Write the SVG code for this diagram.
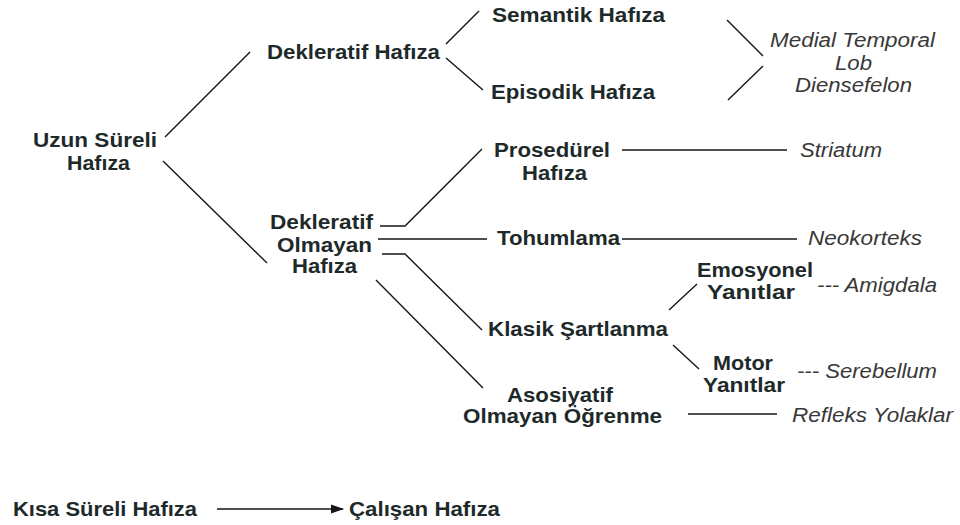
<svg xmlns="http://www.w3.org/2000/svg" width="960" height="525" viewBox="0 0 960 525">
<style>
.b{font-family:"Liberation Sans",Arial,sans-serif;font-weight:bold;font-size:21px;fill:#1e2a2a}
.i{font-family:"Liberation Sans",Arial,sans-serif;font-style:italic;font-size:20px;fill:#383838}
.c line,.c polyline{stroke:#161616;stroke-width:1.4;fill:none}
</style>
<defs>
<marker id="ah" markerWidth="13" markerHeight="10" refX="12" refY="5" orient="auto" markerUnits="userSpaceOnUse">
<path d="M0,0.5 L13,5 L0,9.5 Z" fill="#161616"/>
</marker>
</defs>
<rect width="960" height="525" fill="#fff"/>
<g class="c" id="connectors">
<line x1="165" y1="137" x2="250" y2="52"/>
<line x1="163" y1="161" x2="267" y2="263"/>
<line x1="446" y1="44" x2="479" y2="11"/>
<line x1="446" y1="58" x2="483" y2="90"/>
<line x1="727" y1="20" x2="763" y2="56"/>
<line x1="763" y1="66" x2="728" y2="100"/>
<polyline points="380,226 405,226 482,149"/>
<line x1="378" y1="239" x2="487" y2="239"/>
<line x1="622" y1="239" x2="797" y2="239"/>
<polyline points="382,254 405,254 482,330"/>
<line x1="376" y1="280" x2="483" y2="388"/>
<line x1="669" y1="310" x2="697" y2="284"/>
<line x1="673" y1="345" x2="699" y2="369"/>
<line x1="622" y1="150" x2="787" y2="150"/>
<line x1="688" y1="414" x2="777" y2="414"/>
<line x1="217" y1="509" x2="343" y2="509" marker-end="url(#ah)"/>
</g>
<g id="uzun"><text class="b" x="33" y="147" textLength="124" lengthAdjust="spacingAndGlyphs">Uzun Süreli</text><text class="b" x="67" y="170" textLength="63" lengthAdjust="spacingAndGlyphs">Hafıza</text></g>
<g id="deklaratif"><text class="b" x="267" y="59" textLength="173" lengthAdjust="spacingAndGlyphs">Dekleratif Hafıza</text></g>
<g id="semantik"><text class="b" x="492" y="22" textLength="173" lengthAdjust="spacingAndGlyphs">Semantik Hafıza</text></g>
<g id="episodik"><text class="b" x="491" y="99" textLength="164" lengthAdjust="spacingAndGlyphs">Episodik Hafıza</text></g>
<g id="prosedurel"><text class="b" x="494" y="157" textLength="116" lengthAdjust="spacingAndGlyphs">Prosedürel</text><text class="b" x="522" y="180" textLength="65" lengthAdjust="spacingAndGlyphs">Hafıza</text></g>
<g id="tohumlama"><text class="b" x="497" y="245" textLength="123" lengthAdjust="spacingAndGlyphs">Tohumlama</text></g>
<g id="dekleratif-olmayan"><text class="b" x="270" y="229" textLength="103" lengthAdjust="spacingAndGlyphs">Dekleratif</text><text class="b" x="277" y="252" textLength="95" lengthAdjust="spacingAndGlyphs">Olmayan</text><text class="b" x="292" y="273" textLength="65" lengthAdjust="spacingAndGlyphs">Hafıza</text></g>
<g id="klasik"><text class="b" x="488" y="336" textLength="180" lengthAdjust="spacingAndGlyphs">Klasik Şartlanma</text></g>
<g id="asosiyatif"><text class="b" x="507" y="402" textLength="106" lengthAdjust="spacingAndGlyphs">Asosiyatif</text><text class="b" x="463" y="423" textLength="199" lengthAdjust="spacingAndGlyphs">Olmayan Öğrenme</text></g>
<g id="emosyonel"><text class="b" x="697" y="277" textLength="116" lengthAdjust="spacingAndGlyphs">Emosyonel</text><text class="b" x="707" y="299" textLength="88" lengthAdjust="spacingAndGlyphs">Yanıtlar</text></g>
<g id="motor"><text class="b" x="713" y="370" textLength="60" lengthAdjust="spacingAndGlyphs">Motor</text><text class="b" x="703" y="392" textLength="82" lengthAdjust="spacingAndGlyphs">Yanıtlar</text></g>
<g id="kisa"><text class="b" x="13" y="516" textLength="184" lengthAdjust="spacingAndGlyphs">Kısa Süreli Hafıza</text></g>
<g id="calisan"><text class="b" x="349" y="516" textLength="151" lengthAdjust="spacingAndGlyphs">Çalışan Hafıza</text></g>
<g id="medial"><text class="i" x="770" y="47" textLength="165" lengthAdjust="spacingAndGlyphs">Medial Temporal</text><text class="i" x="835" y="70" textLength="37" lengthAdjust="spacingAndGlyphs">Lob</text><text class="i" x="795" y="92" textLength="117" lengthAdjust="spacingAndGlyphs">Diensefelon</text></g>
<g id="striatum"><text class="i" x="800" y="157" textLength="82" lengthAdjust="spacingAndGlyphs">Striatum</text></g>
<g id="neokorteks"><text class="i" x="808" y="245" textLength="114" lengthAdjust="spacingAndGlyphs">Neokorteks</text></g>
<g id="amigdala"><text class="i" x="817" y="292" textLength="120" lengthAdjust="spacingAndGlyphs">--- Amigdala</text></g>
<g id="serebellum"><text class="i" x="797" y="378" textLength="140" lengthAdjust="spacingAndGlyphs">--- Serebellum</text></g>
<g id="refleks"><text class="i" x="792" y="422" textLength="161" lengthAdjust="spacingAndGlyphs">Refleks Yolaklar</text></g>
</svg>
